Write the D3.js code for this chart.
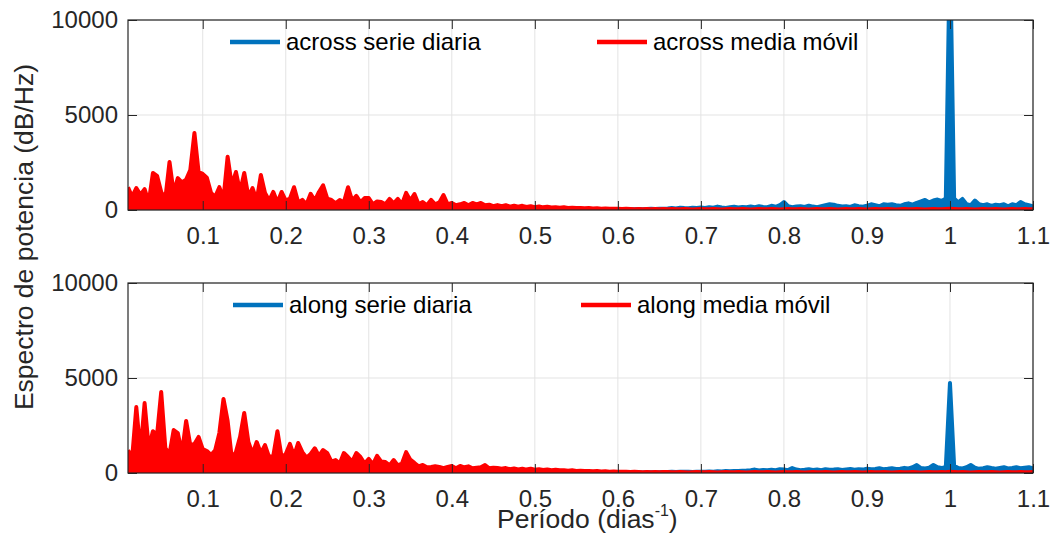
<!DOCTYPE html>
<html>
<head>
<meta charset="utf-8">
<script src="https://cdn.jsdelivr.net/npm/d3@7"></script>
<style>
  body { margin: 0; background: #fff; }
  text { font-family: "Liberation Sans", Arial, Helvetica, sans-serif; }
</style>
</head>
<body>
<div id="my_spectrum"></div>
<script>
// frequency grid of the spectra (dias^-1)
var freqStart = 0.01, freqStep = 0.005;

var xTicks = [0.1, 0.2, 0.3, 0.4, 0.5, 0.6, 0.7, 0.8, 0.9, 1, 1.1];
var yTicks = [0, 5000, 10000];

var acrossLabels = ["across serie diaria", "across media móvil"];
var alongLabels = ["along serie diaria", "along media móvil"];

// across - serie diaria
var acrossSerie = [
  600, 300, 500, 400, 500, 200, 900, 800, 400, 300,
  1200, 400, 800, 700, 700, 1000, 1800, 900, 900, 800,
  400, 300, 600, 300, 1300, 600, 900, 400, 900, 300,
  500, 200, 800, 400, 200, 400, 200, 400, 200, 300,
  500, 200, 250, 150, 400, 200, 400, 600, 300, 250,
  150, 250, 200, 500, 200, 300, 200, 300, 300, 150,
  200, 200, 150, 250, 150, 250, 150, 400, 200, 350,
  150, 200, 100, 250, 150, 200, 350, 150, 150, 100,
  150, 150, 100, 150, 150, 150, 100, 120, 80, 120,
  80, 100, 80, 100, 70, 100, 70, 90, 60, 80,
  60, 70, 60, 70, 50, 60, 50, 60, 50, 50,
  40, 50, 40, 50, 40, 40, 30, 40, 40, 40,
  50, 40, 40, 50, 40, 50, 60, 50, 60, 70,
  80, 100, 80, 120, 100, 90, 120, 100, 130, 110,
  150, 120, 180, 130, 110, 150, 170, 130, 160, 140,
  180, 150, 200, 160, 150, 220, 170, 250, 420, 200,
  150, 180, 200, 160, 230, 180, 150, 200, 250, 300,
  280, 220, 180, 200, 160, 250, 200, 170, 220, 300,
  250, 200, 300, 280, 300, 250, 220, 300, 350, 280,
  380, 450, 530, 400, 500, 550, 480, 600, 14000, 600,
  400, 580, 300, 250, 500, 300, 250, 300, 220, 280,
  250, 300, 200, 300, 250, 420, 300, 250, 200
];

// across - media movil
var acrossMedia = [
  1200, 700, 1150, 800, 1100, 400, 1950, 1800, 950, 600,
  2530, 900, 1680, 1450, 1600, 2100, 4050, 2000, 1900, 1700,
  900, 700, 1200, 600, 2800, 1300, 2000, 950, 1950, 700,
  1150, 500, 1840, 900, 500, 950, 400, 950, 500, 600,
  1200, 400, 530, 300, 850, 500, 950, 1300, 600, 530,
  350, 530, 400, 1200, 500, 740, 400, 630, 630, 300,
  450, 420, 300, 580, 350, 580, 300, 900, 500, 840,
  300, 420, 250, 530, 300, 400, 790, 300, 370, 250,
  300, 370, 250, 370, 300, 370, 250, 280, 200, 260,
  200, 250, 180, 230, 170, 220, 160, 200, 150, 190,
  140, 170, 130, 150, 120, 140, 110, 120, 100, 110,
  90, 100, 80, 90, 70, 80, 60, 70, 60, 50,
  60, 50, 40, 50, 40, 50, 40, 50, 40, 50,
  40, 50, 40, 40, 50, 40, 30, 40, 50, 40,
  40, 50, 40, 30, 40, 50, 40, 40, 50, 40,
  30, 40, 50, 40, 40, 50, 40, 30, 40, 50,
  40, 40, 50, 40, 30, 40, 50, 40, 40, 50,
  40, 30, 40, 50, 40, 40, 50, 40, 30, 40,
  50, 40, 40, 50, 40, 30, 40, 50, 40, 40,
  50, 40, 30, 40, 50, 40, 40, 50, 60, 50,
  40, 40, 50, 40, 30, 40, 50, 40, 40, 50,
  40, 30, 40, 50, 40, 40, 50, 40, 40
];

// along - serie diaria
var alongSerie = [
  500, 300, 1500, 400, 1600, 500, 900, 800, 1800, 500,
  400, 1000, 900, 400, 1200, 600, 600, 800, 500, 500,
  400, 500, 900, 1700, 1200, 300, 400, 800, 1400, 700,
  400, 700, 400, 600, 300, 400, 900, 300, 400, 600,
  400, 600, 400, 300, 400, 500, 400, 500, 400, 250,
  300, 200, 400, 300, 250, 400, 300, 200, 300, 200,
  350, 250, 250, 150, 250, 150, 200, 400, 250, 200,
  150, 150, 120, 130, 150, 130, 100, 130, 150, 100,
  150, 120, 140, 100, 110, 120, 150, 100, 110, 100,
  90, 100, 80, 90, 80, 90, 70, 80, 70, 80,
  60, 70, 60, 60, 50, 60, 50, 50, 40, 50,
  40, 40, 40, 40, 30, 40, 30, 40, 30, 40,
  40, 40, 40, 40, 30, 40, 40, 40, 40, 50,
  50, 60, 50, 60, 70, 60, 50, 70, 60, 70,
  80, 70, 90, 80, 100, 90, 110, 100, 120, 130,
  150, 180, 130, 160, 140, 170, 150, 200, 180, 150,
  260, 180, 150, 170, 200, 160, 180, 150, 200, 170,
  180, 200, 160, 190, 210, 170, 200, 180, 230, 200,
  210, 250, 200, 220, 250, 210, 230, 270, 240, 300,
  420, 260, 240, 280, 420, 300, 260, 320, 4740, 380,
  260, 240, 300, 420, 280, 220, 250, 300, 260, 230,
  270, 300, 240, 260, 300, 250, 280, 300, 240
];

// along - media movil
var alongMedia = [
  1200, 800, 3470, 1100, 3680, 1300, 2200, 2000, 4260, 1300,
  1000, 2260, 2100, 1050, 2740, 1470, 1530, 1900, 1260, 1160,
  950, 1200, 2100, 3900, 2740, 790, 1100, 1900, 3160, 1630,
  1000, 1630, 1050, 1470, 840, 900, 2200, 840, 1000, 1530,
  900, 1580, 1100, 800, 1000, 1300, 900, 1210, 1050, 600,
  680, 500, 1050, 840, 600, 1050, 840, 500, 740, 450,
  900, 600, 580, 400, 680, 400, 500, 1100, 700, 530,
  350, 420, 300, 320, 350, 320, 250, 320, 370, 250,
  370, 300, 350, 250, 280, 300, 420, 250, 280, 260,
  220, 260, 200, 240, 190, 230, 180, 220, 170, 200,
  160, 190, 150, 170, 140, 150, 120, 140, 110, 120,
  100, 110, 90, 100, 80, 90, 70, 80, 60, 70,
  60, 50, 60, 50, 40, 50, 40, 50, 40, 50,
  50, 40, 40, 50, 40, 30, 40, 50, 40, 40,
  50, 40, 30, 40, 50, 40, 40, 50, 40, 30,
  40, 50, 40, 40, 50, 40, 30, 40, 50, 40,
  40, 50, 40, 30, 40, 50, 40, 40, 50, 40,
  30, 40, 50, 40, 40, 50, 40, 30, 40, 50,
  40, 40, 50, 40, 30, 40, 50, 40, 40, 50,
  40, 30, 40, 50, 40, 40, 50, 40, 60, 50,
  40, 50, 40, 30, 40, 50, 40, 40, 50, 40,
  30, 40, 50, 40, 40, 50, 40, 40, 50
];

var blue = "#0072BD", red = "#FF0000", axisColor = "#262626";

var width = 1056, height = 535;
var left = 128, right = 1033, panelH = 190;

var svg = d3.select("#my_spectrum").append("svg")
  .attr("width", width)
  .attr("height", height);

var x = d3.scaleLinear().domain([0.01, 1.1]).range([left, right]);

var panels = [
  { top: 20, serie: acrossSerie, media: acrossMedia, labels: acrossLabels, legX: [230, 597] },
  { top: 283, serie: alongSerie, media: alongMedia, labels: alongLabels, legX: [233, 581] }
];

panels.forEach(function (p, k) {
  var y = d3.scaleLinear().domain([0, 10000]).range([p.top + panelH, p.top]);
  var g = svg.append("g");

  // grid
  g.append("g").selectAll("line.gx")
    .data(xTicks).enter().append("line")
    .attr("x1", function (d) { return x(d); })
    .attr("x2", function (d) { return x(d); })
    .attr("y1", p.top).attr("y2", p.top + panelH)
    .attr("stroke", "#e3e3e3").attr("stroke-width", 1);
  g.append("g").selectAll("line.gy")
    .data(yTicks).enter().append("line")
    .attr("x1", left).attr("x2", right)
    .attr("y1", function (d) { return y(d); })
    .attr("y2", function (d) { return y(d); })
    .attr("stroke", "#e3e3e3").attr("stroke-width", 1);

  // clip to the axes box
  svg.append("clipPath").attr("id", "clip" + k)
    .append("rect").attr("x", left).attr("y", p.top)
    .attr("width", right - left).attr("height", panelH);

  var plot = g.append("g").attr("clip-path", "url(#clip" + k + ")");

  [[p.serie, blue], [p.media, red]].forEach(function (s) {
    var pts = s[0].map(function (v, i) { return [freqStart + i * freqStep, v]; });
    var area = d3.area()
      .x(function (d) { return x(d[0]); })
      .y0(y(0))
      .y1(function (d) { return y(d[1]); });
    var line = d3.line()
      .x(function (d) { return x(d[0]); })
      .y(function (d) { return y(d[1]); });
    plot.append("path").attr("d", area(pts)).attr("fill", s[1]);
    plot.append("path").attr("d", line(pts))
      .attr("fill", "none").attr("stroke", s[1])
      .attr("stroke-width", 4).attr("stroke-linejoin", "round");
  });

  // axes (inward ticks, MATLAB-like box)
  var xAxis = g.append("g")
    .attr("transform", "translate(0," + (p.top + panelH) + ")")
    .call(d3.axisBottom(x).tickValues(xTicks).tickSize(-9).tickPadding(17)
      .tickFormat(function (d) { return String(d); }));
  var xTop = g.append("g")
    .attr("transform", "translate(0," + p.top + ")")
    .call(d3.axisTop(x).tickValues(xTicks).tickSize(-9).tickFormat(""));
  var yAxis = g.append("g")
    .attr("transform", "translate(" + left + ",0)")
    .call(d3.axisLeft(y).tickValues(yTicks).tickSize(-9).tickPadding(10)
      .tickFormat(function (d) { return String(d); }));
  var yRight = g.append("g")
    .attr("transform", "translate(" + right + ",0)")
    .call(d3.axisRight(y).tickValues(yTicks).tickSize(-9).tickFormat(""));

  [xAxis, xTop, yAxis, yRight].forEach(function (a) {
    a.select(".domain").remove();
    a.selectAll("line").attr("stroke", axisColor);
    a.selectAll("text").attr("fill", axisColor)
      .style("font-size", "24px")
      .style("font-family", "'Liberation Sans', Arial, sans-serif");
  });

  g.append("rect")
    .attr("x", left).attr("y", p.top)
    .attr("width", right - left).attr("height", panelH)
    .attr("fill", "none").attr("stroke", axisColor).attr("stroke-width", 1.2);

  // legend
  var colors = [blue, red];
  p.labels.forEach(function (lab, j) {
    var lx = p.legX[j], ly = p.top + 22;
    g.append("line")
      .attr("x1", lx).attr("x2", lx + 50)
      .attr("y1", ly).attr("y2", ly)
      .attr("stroke", colors[j]).attr("stroke-width", 4.5);
    g.append("text")
      .attr("x", lx + 56).attr("y", ly + 8)
      .attr("fill", "#000")
      .style("font-size", "24px")
      .text(lab);
  });
});

// axis titles (MATLAB labels are 1.1x the tick font)
svg.append("text")
  .attr("transform", "translate(33,237) rotate(-90)")
  .attr("text-anchor", "middle")
  .attr("fill", axisColor)
  .style("font-size", "26.5px")
  .text("Espectro de potencia (dB/Hz)");

var xl = svg.append("text")
  .attr("x", 497).attr("y", 528)
  .attr("fill", axisColor)
  .style("font-size", "26.5px");
xl.append("tspan").text("Período (dias");
xl.append("tspan").attr("dy", -12).style("font-size", "16px").text("-1");
xl.append("tspan").attr("dy", 12).text(")");
</script>
</body>
</html>
